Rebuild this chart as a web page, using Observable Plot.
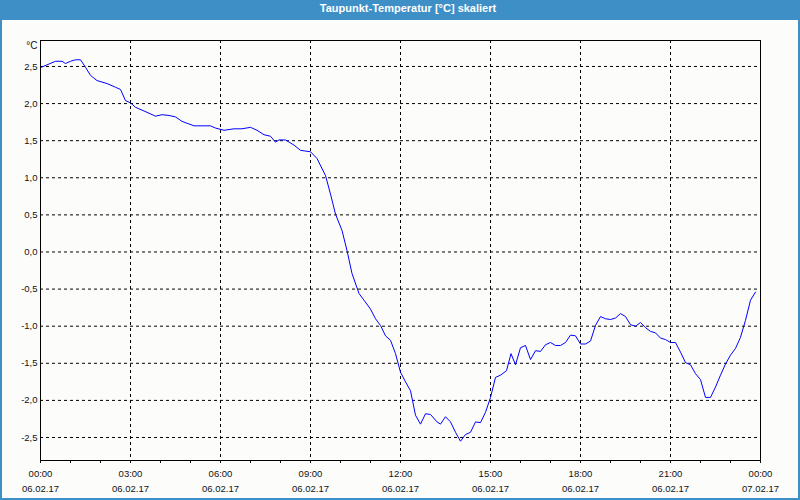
<!DOCTYPE html>
<html>
<head>
<meta charset="utf-8">
<script src="https://cdn.jsdelivr.net/npm/d3@7"></script>
<script src="https://cdn.jsdelivr.net/npm/@observablehq/plot@0.6"></script>
<style>
  body { margin: 0; background: #ffffff; }
  #wrap { position: relative; width: 800px; height: 500px; background: #fcfdfb; overflow: hidden; font-family: "Liberation Sans", Arial, sans-serif; }
  #title { height: 20px; background: #3d8fc6; color: #ffffff; font-weight: bold; font-size: 11px; line-height: 17px; text-align: center; padding-left: 16px; box-sizing: border-box; }
  #border { position: absolute; left: 0; top: 0; width: 800px; height: 500px; box-sizing: border-box; border: 2px solid #3d8fc6; pointer-events: none; }
  #chart svg { display: block; }
</style>
</head>
<body>
<div id="wrap">
  <div id="title">Taupunkt-Temperatur [°C] skaliert</div>
  <div id="chart"></div>
  <div id="border"></div>
</div>
<script>
// Time of each reading, minutes after 06.02.17 00:00
const minutesOfDay = [
  2, 30, 43, 50, 60, 70, 80, 90, 100, 113, 133, 150, 160, 170, 180, 190, 207, 217, 230, 243,
  257, 270, 283, 307, 327, 340, 350, 367, 387, 403, 420, 433, 447, 460, 470, 477, 490, 507,
  520, 540, 553, 570, 580, 590, 603, 613, 623, 637, 647, 660, 670, 680, 690, 700, 710, 720,
  730, 740, 750, 760, 770, 780, 793, 800, 810, 820, 830, 840, 850, 860, 870, 880, 890, 900,
  910, 920, 932, 941, 950, 960, 970, 980, 990, 1000, 1010, 1020, 1030, 1040, 1050, 1060,
  1070, 1080, 1090, 1100, 1110, 1120, 1130, 1140, 1150, 1160, 1170, 1180, 1190, 1200, 1210,
  1220, 1230, 1240, 1250, 1260, 1270, 1280, 1290, 1300, 1310, 1320, 1330, 1340, 1350, 1360,
  1370, 1380, 1390, 1400, 1410, 1420, 1430
];
// Dew point temperature, °C
const dewPoint = [
  2.49, 2.57, 2.57, 2.54, 2.57, 2.59, 2.59, 2.49, 2.38, 2.31, 2.27, 2.22, 2.19, 2.04, 2.01, 1.95, 1.90, 1.87, 1.83, 1.85,
  1.84, 1.82, 1.76, 1.70, 1.70, 1.70, 1.67, 1.64, 1.66, 1.66, 1.68, 1.64, 1.58, 1.56, 1.48, 1.51, 1.51, 1.44,
  1.37, 1.35, 1.26, 1.03, 0.78, 0.51, 0.29, 0.02, -0.29, -0.56, -0.65, -0.77, -0.90, -0.99, -1.13, -1.19, -1.37, -1.62,
  -1.75, -1.87, -2.20, -2.32, -2.18, -2.19, -2.29, -2.32, -2.22, -2.29, -2.43, -2.55, -2.46, -2.43, -2.29, -2.30, -2.16, -1.96,
  -1.69, -1.66, -1.60, -1.37, -1.52, -1.29, -1.26, -1.45, -1.33, -1.34, -1.25, -1.22, -1.26, -1.26, -1.22, -1.12,
  -1.13, -1.24, -1.24, -1.20, -0.99, -0.87, -0.90, -0.91, -0.89, -0.83, -0.87, -0.98, -1.00, -0.95, -1.02,
  -1.07, -1.09, -1.16, -1.18, -1.22, -1.22, -1.35, -1.49, -1.52, -1.64, -1.72, -1.96, -1.96, -1.82, -1.66,
  -1.51, -1.39, -1.30, -1.15, -0.92, -0.65, -0.54
];

// Axis ticks
const majorHours = [0, 3, 6, 9, 12, 15, 18, 21, 24];
const timeLabels = ["00:00", "03:00", "06:00", "09:00", "12:00", "15:00", "18:00", "21:00", "00:00"];
const dateLabels = ["06.02.17", "06.02.17", "06.02.17", "06.02.17", "06.02.17", "06.02.17", "06.02.17", "06.02.17", "07.02.17"];
const minorHours = d3.range(0, 25, 1);
const gridHours = [3, 6, 9, 12, 15, 18, 21];
const yTicks = [-2.5, -2.0, -1.5, -1.0, -0.5, 0.0, 0.5, 1.0, 1.5, 2.0, 2.5];
const yLabels = ["-2,5", "-2,0", "-1,5", "-1,0", "-0,5", "0,0", "0,5", "1,0", "1,5", "2,0", "2,5"];
const yUnit = "°C";

const data = minutesOfDay.map((m, i) => ({ hour: m / 60, value: dewPoint[i] }));

const dash = { stroke: "#000000", strokeOpacity: 1, strokeWidth: 1, strokeDasharray: "3,3" };

const chart = Plot.plot({
  width: 800,
  height: 480,
  marginTop: 20,
  marginBottom: 40,
  marginLeft: 40,
  marginRight: 40,
  style: { fontFamily: "'Liberation Sans', Arial, sans-serif", fontSize: "9.5px", background: "#fcfdfb", color: "#111111" },
  x: { type: "linear", domain: [0, 24] },
  y: { domain: [-2.81, 2.85] },
  marks: [
    Plot.gridY(yTicks, dash),
    Plot.gridX(gridHours, dash),
    Plot.frame({ stroke: "#000000", strokeWidth: 1 }),
    Plot.line(data, { x: "hour", y: "value", stroke: "#0000ff", strokeWidth: 1 }),
    Plot.axisY(yTicks, { tickSize: 0, tickPadding: 3, tickFormat: (d) => yLabels[yTicks.indexOf(d)], label: null }),
    Plot.axisX(minorHours, { tickSize: 3, tickFormat: () => "", label: null }),
    Plot.axisX(majorHours, {
      tickSize: 3,
      tickPadding: 3,
      lineHeight: 1.58,
      tickFormat: (d) => { const i = majorHours.indexOf(d); return timeLabels[i] + "\n" + dateLabels[i]; },
      label: null
    }),
    Plot.text([yUnit], { frameAnchor: "top-left", dx: -3, dy: 5, textAnchor: "end", lineAnchor: "middle", fontSize: 10 })
  ]
});
document.getElementById("chart").appendChild(chart);
</script>
</body>
</html>
